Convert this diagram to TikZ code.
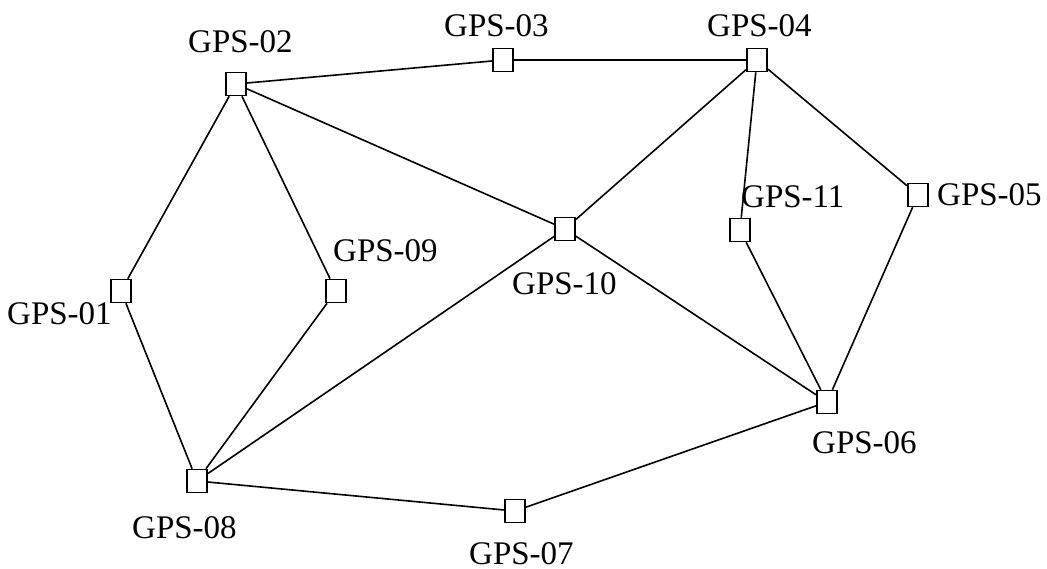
\documentclass[tikz,border=0pt]{standalone}
\usepackage{fontspec}
\setmainfont{Liberation Serif}
\begin{document}
\begin{tikzpicture}[x=1pt,y=-1pt,
  gps/.style={draw,line width=1.6pt,fill=white,minimum width=20.5pt,minimum height=23pt,inner sep=0pt},
  lbl/.style={inner sep=0pt,anchor=base west,text depth=0pt,font=\fontsize{33}{38}\selectfont},
  edge/.style={line width=1.6pt}]
\useasboundingbox (0,0) rectangle (1047,569);
\node[gps] (n01) at (121,291) {};
\node[gps] (n02) at (236,84) {};
\node[gps] (n03) at (503,60) {};
\node[gps] (n04) at (757,60) {};
\node[gps] (n05) at (918,195) {};
\node[gps] (n06) at (827,402) {};
\node[gps] (n07) at (515,511) {};
\node[gps] (n08) at (197,481) {};
\node[gps] (n09) at (336,291) {};
\node[gps] (n10) at (565,229) {};
\node[gps] (n11) at (740,230) {};
\draw[edge] (n02) -- (n03);
\draw[edge] (n03) -- (n04);
\draw[edge] (n04) -- (n10);
\draw[edge] (n04) -- (n11);
\draw[edge] (n04) -- (n05);
\draw[edge] (n02) -- (n10);
\draw[edge] (n02) -- (n01);
\draw[edge] (n02) -- (n09);
\draw[edge] (n01) -- (n08);
\draw[edge] (n09) -- (n08);
\draw[edge] (n10) -- (n08);
\draw[edge] (n10) -- (n06);
\draw[edge] (n11) -- (n06);
\draw[edge] (n05) -- (n06);
\draw[edge] (n06) -- (n07);
\draw[edge] (n07) -- (n08);
\node[lbl] (t01) at (7,325) {GPS-01};
\node[lbl] (t02) at (188,53) {GPS-02};
\node[lbl] (t03) at (444,37) {GPS-03};
\node[lbl] (t04) at (707,37) {GPS-04};
\node[lbl] (t05) at (937,206) {GPS-05};
\node[lbl] (t06) at (812,453) {GPS-06};
\node[lbl] (t07) at (469,564) {GPS-07};
\node[lbl] (t08) at (132,538) {GPS-08};
\node[lbl] (t09) at (333,262) {GPS-09};
\node[lbl] (t10) at (512,295) {GPS-10};
\node[lbl] (t11) at (741,208) {GPS-11};
\end{tikzpicture}
\end{document}
